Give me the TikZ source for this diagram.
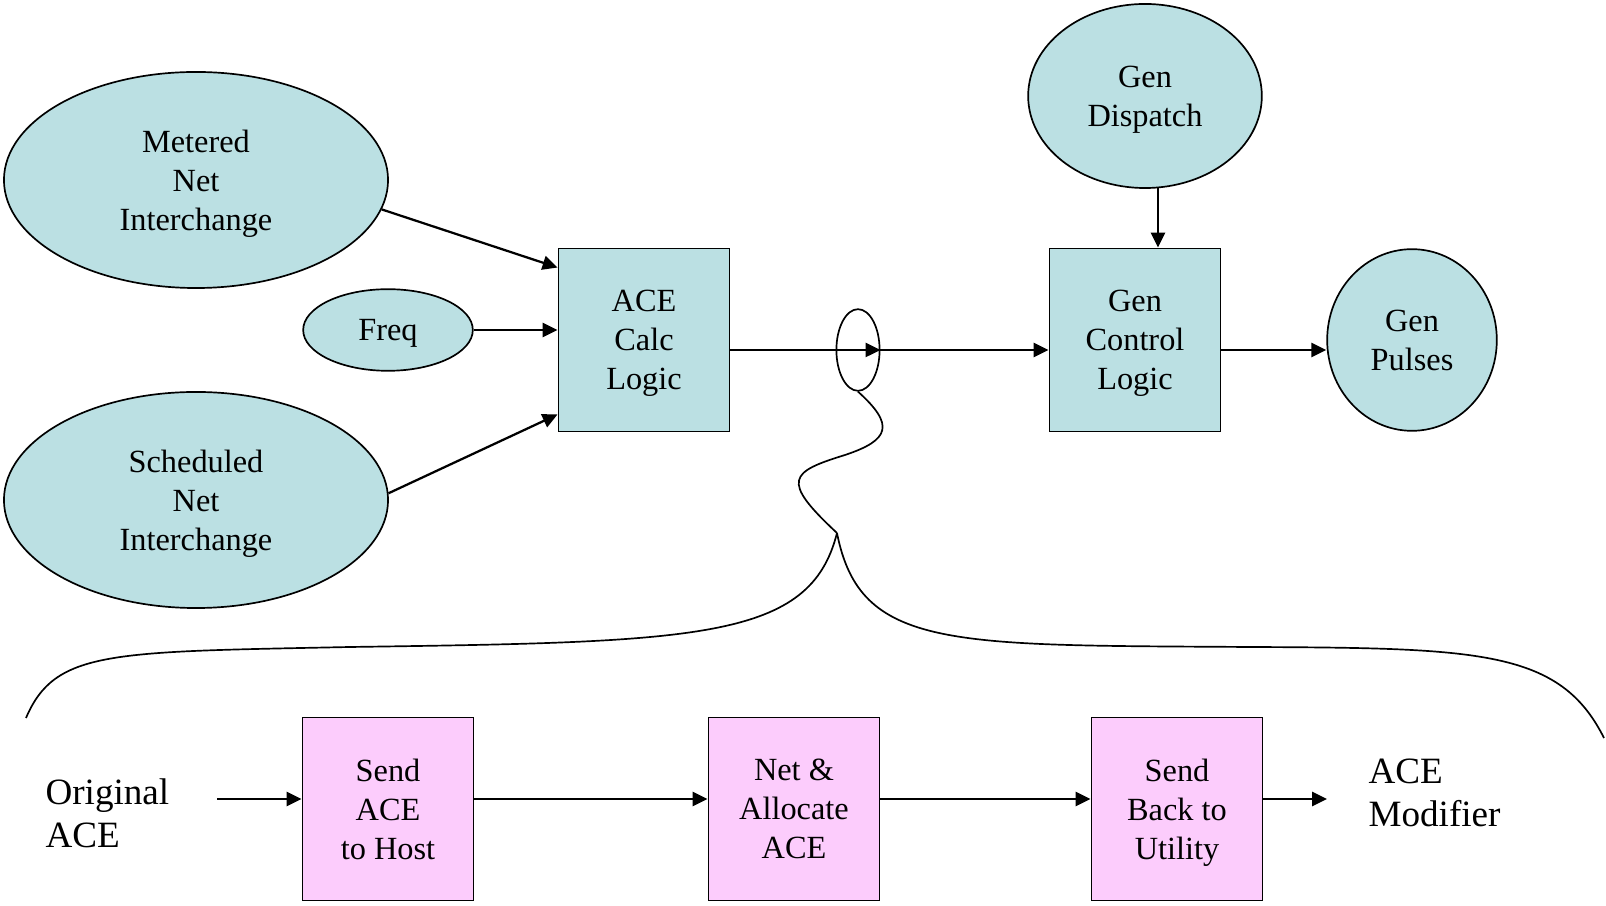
\documentclass[tikz,border=0pt]{standalone}
\usepackage{fontspec}
\setmainfont{Liberation Serif}
\usetikzlibrary{shapes.geometric,arrows.meta,calc}
\definecolor{acecyan}{RGB}{187,224,227}
\definecolor{acepink}{RGB}{252,204,252}

\tikzset{
  blob/.style={ellipse, draw, fill=acecyan, line width=0.6pt, inner sep=0pt, align=center,
    text depth=-1pt, font=\fontsize{11.5}{13.9}\selectfont},
  logicbox/.style={rectangle, draw, fill=acecyan, line width=0.6pt, inner sep=0pt, align=center,
    minimum width=2.14cm, minimum height=2.29cm, text depth=-1pt, font=\fontsize{11.5}{13.9}\selectfont},
  stagebox/.style={logicbox, fill=acepink},
  flow/.style={-{Triangle[length=5.3pt,width=5pt]}, line width=0.8pt},
  bigtext/.style={anchor=west, inner sep=0pt, align=left, font=\fontsize{13.2}{15.2}\selectfont},
}

\begin{document}
\begin{tikzpicture}[x=0.0125cm, y=-0.0125cm]
    \useasboundingbox (0,0) rectangle (1606,906);

    % Inputs
    \node[blob, minimum width=4.8cm, minimum height=2.7cm] (metered) at (196,180) {Metered\\Net\\Interchange};
    \node[blob, minimum width=2.12cm, minimum height=1.02cm] (freq) at (388,330) {Freq};
    \node[blob, minimum width=4.8cm, minimum height=2.7cm] (sched) at (196,500) {Scheduled\\Net\\Interchange};

    % Logic blocks
    \node[logicbox] (ace) at (644,340) {ACE\\Calc\\Logic};
    \node[logicbox] (gcl) at (1135,340) {Gen\\Control\\Logic};
    \node[blob, minimum width=2.92cm, minimum height=2.3cm] (dispatch) at (1145,96) {Gen\\Dispatch};
    \node[blob, minimum width=2.12cm, minimum height=2.27cm] (pulses) at (1412,340) {Gen\\Pulses};

    % Zoom marker on the ACE line
    \node[ellipse, draw, line width=0.6pt, minimum width=0.54cm, minimum height=1.02cm, inner sep=0pt] (loop) at (858,350) {};

    % Upper connectors
    \draw[flow] (metered.-9) -- ($(ace.north west)+(0,20)$);
    \draw[flow] (freq.east) -- (ace.west |- freq.east);
    \draw[flow] (sched.2) -- ($(ace.south west)+(0,-18)$);
    \draw[flow] (ace.east |- loop) -- (loop.east);
    \draw[flow] (loop.east) -- (gcl.west |- loop);
    \draw[flow] (dispatch.-82) -- (dispatch.-82 |- gcl.north);
    \draw[flow] (gcl.east |- loop) -- (pulses.west |- loop);

    % Squiggle and brace
    \draw[line width=0.6pt] (loop.south) .. controls (895,425) and (890,440) .. (845,455)
        .. controls (790,472) and (780,480) .. (837,533);
    \draw[line width=0.6pt] (26,718) .. controls (55,650) and (110,652) .. (350,647)
        .. controls (700,642) and (810,640) .. (837,533);
    \draw[line width=0.6pt] (837,533) .. controls (860,650) and (950,645) .. (1250,647)
        .. controls (1480,648) and (1560,650) .. (1604,738);

    % ACE modifier chain
    \node[bigtext] (orig) at (45,813) {Original\\ACE};
    \node[stagebox] (send) at (388,809) {Send\\ACE\\to Host};
    \node[stagebox] (alloc) at (794,809) {Net \&\\Allocate\\ACE};
    \node[stagebox] (back) at (1177,809) {Send\\Back to\\Utility};
    \node[bigtext] (modifier) at (1368,793) {ACE\\Modifier};
    \coordinate (origout) at (217,799);
    \coordinate (modin) at (1327,799);

    \draw[flow] (origout) -- (send.west |- origout);
    \draw[flow] (send.east |- origout) -- (alloc.west |- origout);
    \draw[flow] (alloc.east |- origout) -- (back.west |- origout);
    \draw[flow] (back.east |- origout) -- (modin);
\end{tikzpicture}
\end{document}
